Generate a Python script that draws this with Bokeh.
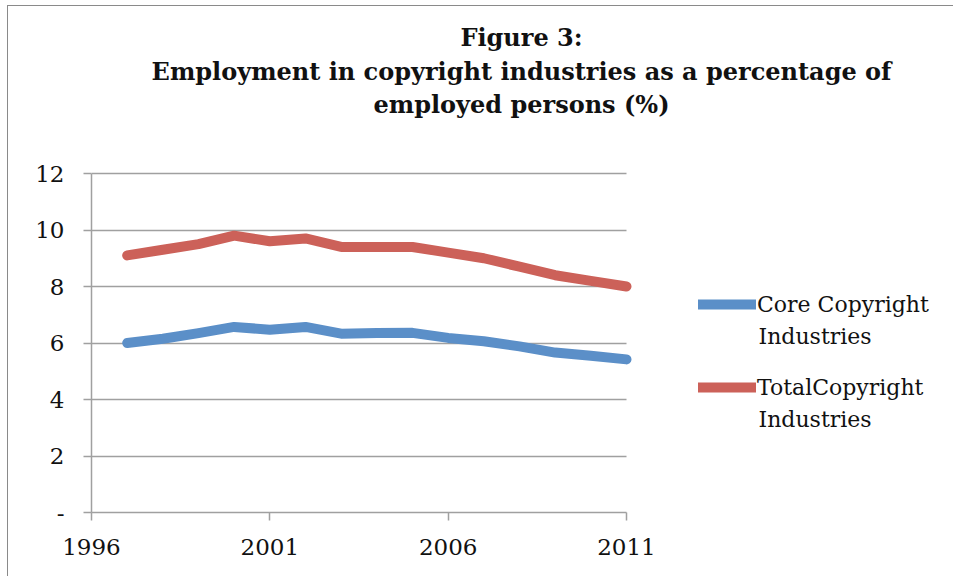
from bokeh.plotting import figure
from bokeh.models import FixedTicker, Legend, LegendItem, Label
from bokeh.embed import file_html
from bokeh.resources import INLINE

years = [1997, 1998, 1999, 2000, 2001, 2002, 2003, 2004, 2005, 2006, 2007, 2008, 2009, 2010, 2011]
core = [6.0, 6.15, 6.35, 6.57, 6.47, 6.57, 6.33, 6.35, 6.36, 6.18, 6.06, 5.88, 5.66, 5.55, 5.42]
total = [9.1, 9.3, 9.5, 9.8, 9.6, 9.7, 9.4, 9.4, 9.4, 9.2, 9.0, 8.7, 8.4, 8.2, 8.0]
x_ticks = [1996, 2001, 2006, 2011]
y_ticks = [0, 2, 4, 6, 8, 10, 12]
y_labels = {0: "-", 2: "2", 4: "4", 6: "6", 8: "8", 10: "10", 12: "12"}
series_first = ["Core Copyright", "TotalCopyright"]
series_second = ["Industries", "Industries"]
title_lines = ["Figure 3:", "Employment in copyright industries as a percentage of", "employed persons (%)"]

BLUE = "#5b8fc8"
RED = "#cc6159"
GRID = "#a0a0a0"
FONT = "DejaVu Serif"

# plot area geometry (pixels): axes box is 535 x 339, frame extended to hold title and legend
AX_W, AX_H = 535, 339
FR_W, FR_H = 862, 506
x0, x1 = x_ticks[0], x_ticks[-1]
y0, y1 = y_ticks[0], y_ticks[-1]
x_end = x0 + (x1 - x0) * FR_W / AX_W
y_end = y0 + (y1 - y0) * FR_H / AX_H

p = figure(width=946, height=571, output_backend="svg", toolbar_location=None,
           x_range=(x0, x_end), y_range=(y0, y_end),
           min_border_left=83, min_border_right=1, min_border_top=0, min_border_bottom=65)
p.styles = {"border-left": "1px solid #8a8a8a", "border-top": "1px solid #8a8a8a",
            "margin-left": "7px", "margin-top": "5px"}
p.outline_line_color = None
p.xgrid.grid_line_color = None
p.ygrid.grid_line_color = GRID
p.ygrid.grid_line_width = 1.5
p.ygrid.ticker = FixedTicker(ticks=y_ticks)
p.ygrid.cross_bounds = (x0, x1)

for ax in (p.xaxis[0], p.yaxis[0]):
    ax.axis_line_color = GRID
    ax.axis_line_width = 1.5
    ax.major_tick_line_color = GRID
    ax.major_tick_line_width = 1.5
    ax.major_tick_out = 8
    ax.major_tick_in = 0
    ax.minor_tick_line_color = None
    ax.major_label_text_font = FONT
    ax.major_label_text_font_size = "23px"
    ax.major_label_text_color = "#111111"

p.xaxis.ticker = FixedTicker(ticks=x_ticks)
p.yaxis.ticker = FixedTicker(ticks=y_ticks)
p.xaxis.bounds = (x0, x1)
p.yaxis.bounds = (y0, y1)
p.yaxis.major_label_overrides = y_labels
p.yaxis.major_label_standoff = 19
p.xaxis.major_label_standoff = 18

r1 = p.line(years, core, line_color=BLUE, line_width=10, line_join="round", line_cap="round")
r2 = p.line(years, total, line_color=RED, line_width=10, line_join="round", line_cap="round")

legend = Legend(items=[LegendItem(label=series_first[0], renderers=[r1]),
                       LegendItem(label=series_first[1], renderers=[r2])],
                location=(607, 112))
legend.border_line_color = None
legend.background_fill_alpha = 0
legend.label_text_font = FONT
legend.label_text_font_size = "22px"
legend.label_text_color = "#111111"
legend.glyph_width = 58
legend.glyph_height = 26
legend.label_height = 26
legend.label_standoff = 1
legend.spacing = 57
legend.padding = 0
legend.margin = 0
p.add_layout(legend, "center")

for t, yy in zip(series_second, [176, 93]):
    p.add_layout(Label(x=667, y=yy, x_units="screen", y_units="screen", text=t,
                       text_align="left", text_baseline="middle",
                       text_font=FONT, text_font_size="22px", text_color="#111111"))

for t, yy in zip(title_lines, [475, 441, 408]):
    p.add_layout(Label(x=430, y=yy, x_units="screen", y_units="screen", text=t,
                       text_align="center", text_baseline="middle",
                       text_font=FONT, text_font_style="bold", text_font_size="24px",
                       text_color="#111111"))

open("out.html", "w").write(file_html(p, INLINE))
